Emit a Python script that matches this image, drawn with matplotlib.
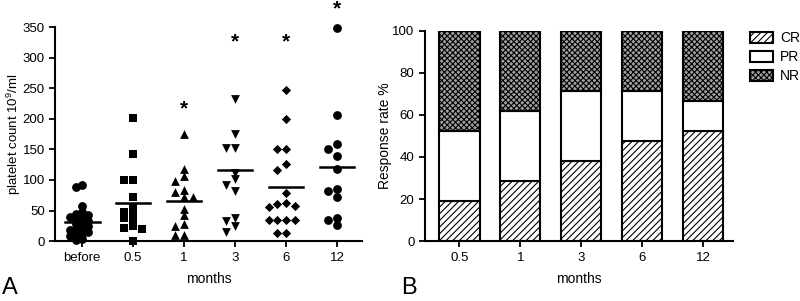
import numpy as np
import matplotlib
matplotlib.use("Agg")
import matplotlib.pyplot as plt
from matplotlib.patches import Patch

plt.rcParams['font.family'] = ['Liberation Sans', 'DejaVu Sans']
plt.rcParams['mathtext.fontset'] = 'custom'
plt.rcParams['mathtext.rm'] = 'Liberation Sans'
plt.rcParams['hatch.linewidth'] = 0.8

# ---- panel A data: platelet counts (10^9/ml) ----
groups = ['before', '0.5', '1', '3', '6', '12']
before = [91, 88, 58, 47, 45, 43, 40, 38, 36, 33, 30, 28, 25, 22, 20, 18, 15, 12, 10, 8, 3, 2]
m05 = [202, 143, 100, 100, 72, 55, 48, 45, 38, 35, 25, 22, 20, 0]
m1 = [175, 118, 107, 99, 84, 80, 72, 72, 52, 42, 28, 25, 10, 10]
m3 = [232, 175, 152, 152, 112, 101, 92, 82, 37, 33, 24, 15]
m6 = [247, 200, 150, 150, 126, 117, 78, 62, 60, 57, 55, 35, 35, 35, 35, 14, 14]
m12 = [348, 206, 159, 151, 139, 118, 85, 82, 72, 37, 34, 26]
group_means = [32, 63, 66, 116, 89, 121]
star_y = [None, None, 217, 326, 326, 380]
markers = ['o', 's', '^', 'v', 'D', 'o']
sizes = [40, 36, 40, 40, 22, 40]

# ---- panel B data: response rate % ----
months = ['0.5', '1', '3', '6', '12']
cr = [19.0, 28.6, 38.1, 47.6, 52.4]
pr = [33.3, 33.3, 33.3, 23.8, 14.3]
nr = [47.7, 38.1, 28.6, 28.6, 33.3]


def swarm_offsets(vals, ygap=10.0, step=0.17, maxslot=2):
    # simple column layout: push points sideways when they collide in y
    order = np.argsort(vals)[::-1]
    placed = []
    offs = np.zeros(len(vals))
    slots = [0, -1, 1, -2, 2, -3, 3]
    slots = [s for s in slots if abs(s) <= maxslot]
    for i in order:
        v = vals[i]
        best = slots[0]
        for s in slots:
            if all(not (abs(v - pv) < ygap and ps == s) for pv, ps in placed):
                best = s
                break
        else:
            # everything busy: take the slot with the farthest neighbour
            gaps = [min([abs(v - pv) for pv, ps in placed if ps == s] or [999]) for s in slots]
            best = slots[int(np.argmax(gaps))]
        placed.append((v, best))
        offs[i] = best * step
    return offs


fig = plt.figure(figsize=(8.0, 3.01), dpi=100)

# ---------------- panel A ----------------
axA = fig.add_axes([0.069, 0.199, 0.384, 0.711])
data = [before, m05, m1, m3, m6, m12]
for k, vals in enumerate(data):
    vals = np.array(vals, dtype=float)
    if k == 0:
        xs = k + swarm_offsets(vals, ygap=8.0, step=0.12, maxslot=2)
    else:
        xs = k + swarm_offsets(vals)
    axA.scatter(xs, vals, marker=markers[k], s=sizes[k], color='black',
                linewidths=0, clip_on=False, zorder=3)
    axA.plot([k - 0.34, k + 0.34], [group_means[k], group_means[k]],
             color='black', lw=1.8, zorder=4)
    if star_y[k] is not None:
        axA.text(k, star_y[k], '*', ha='center', va='center', fontsize=15,
                 fontweight='bold', clip_on=False)

axA.set_xlim(-0.53, 5.5)
axA.set_ylim(0, 350)
axA.set_yticks(np.arange(0, 351, 50))
axA.set_xticks(range(len(groups)))
axA.set_xticklabels(groups)
axA.set_xlabel('months', fontsize=10, labelpad=6)
axA.set_ylabel('platelet count 10$^9$/ml', fontsize=9.5)
axA.yaxis.set_label_coords(-0.106, 0.5)

# ---------------- panel B ----------------
axB = fig.add_axes([0.531, 0.199, 0.385, 0.699])
x = np.arange(len(months))
w = 0.66
axB.bar(x, cr, w, color='white', edgecolor='black', hatch='/////', lw=1.5, zorder=2)
axB.bar(x, pr, w, bottom=cr, color='white', edgecolor='black', lw=1.5, zorder=2)
bot = np.array(cr) + np.array(pr)
axB.bar(x, nr, w, bottom=bot, color='#a0a0a0', edgecolor='black', hatch='xxxxxx', lw=1.5, zorder=2)
axB.set_xlim(-0.57, 4.49)
axB.set_ylim(0, 100)
axB.set_yticks(np.arange(0, 101, 20))
axB.set_xticks(x)
axB.set_xticklabels(months)
axB.set_xlabel('months', fontsize=10, labelpad=6)
axB.set_ylabel('Response rate %', fontsize=10)
axB.yaxis.set_label_coords(-0.105, 0.5)

handles = [Patch(facecolor='white', edgecolor='black', hatch='/////', lw=1.5, label='CR'),
           Patch(facecolor='white', edgecolor='black', lw=1.5, label='PR'),
           Patch(facecolor='#a0a0a0', edgecolor='black', hatch='xxxxxx', lw=1.5, label='NR')]
fig.legend(handles=handles, loc='upper left', bbox_to_anchor=(0.93, 0.915),
           frameon=False, fontsize=10, handlelength=1.7, handleheight=0.85,
           labelspacing=0.35, handletextpad=0.5, borderaxespad=0)

for ax in (axA, axB):
    for side in ('top', 'right'):
        ax.spines[side].set_visible(False)
    for side in ('left', 'bottom'):
        ax.spines[side].set_linewidth(1.5)
    ax.tick_params(direction='out', width=1.3, length=4, labelsize=9.5)

fig.text(0.002, 0.006, 'A', fontsize=17, va='bottom')
fig.text(0.502, 0.006, 'B', fontsize=17, va='bottom')

fig.savefig('out.png', dpi=100)
